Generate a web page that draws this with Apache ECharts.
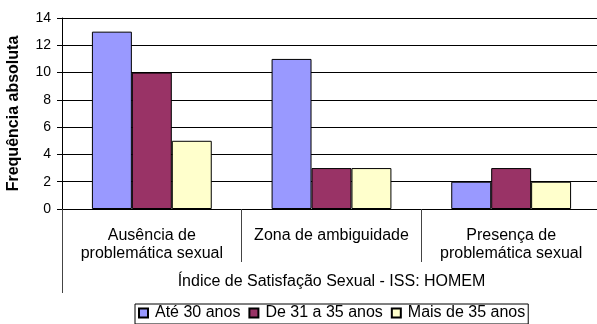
<!DOCTYPE html>
<html>
<head>
<meta charset="utf-8">
<script src="https://cdn.jsdelivr.net/npm/echarts@6/dist/echarts.min.js"></script>
<style>
  html, body { margin: 0; padding: 0; background: #fff; }
  #chart { width: 597px; height: 324px; }
</style>
</head>
<body>
<div id="chart"></div>
<script>
// Categories of the satisfaction index and one array per age group
const categories = ['Ausência de\nproblemática sexual', 'Zona de ambiguidade', 'Presença de\nproblemática sexual'];
const groupTitle = ['Índice de Satisfação Sexual - ISS: HOMEM'];
const seriesNames = ['Até 30 anos', 'De 31 a 35 anos', 'Mais de 35 anos'];
const ate30 = [13, 11, 2];
const de31a35 = [10, 3, 3];
const mais35 = [5, 3, 2];
const yTicks = { min: 0, max: 14, interval: 2 };

const FONT = "'Liberation Sans', Arial, sans-serif";
const colors = ['#9999FF', '#993366', '#FFFFCC'];
const values = [ate30, de31a35, mais35];

const chart = echarts.init(document.getElementById('chart'), null, { renderer: 'canvas' });

chart.setOption({
  animation: false,
  textStyle: { fontFamily: FONT },
  grid: { left: 62, right: -4, top: 18, bottom: 115, containLabel: false, outerBoundsMode: 'none' },
  legend: {
    data: seriesNames,
    left: 135,
    top: 304,
    orient: 'horizontal',
    icon: 'rect',
    itemWidth: 9,
    itemHeight: 9,
    itemGap: 8,
    padding: [1, 3, 3, 3],
    borderColor: '#000',
    borderWidth: 1,
    textStyle: { fontFamily: FONT, fontSize: 16, color: '#000', lineHeight: 16, padding: [0, 0, 0, 2] }
  },
  xAxis: [
    {
      type: 'category',
      data: categories,
      position: 'bottom',
      axisLine: { show: true, lineStyle: { color: '#000', width: 1 } },
      axisTick: { show: true, alignWithLabel: false, length: 53, lineStyle: { color: '#444' } },
      axisLabel: { show: true, interval: 0, margin: 18, color: '#000', fontFamily: FONT, fontSize: 16, lineHeight: 18, align: 'center' },
      splitLine: { show: false }
    },
    {
      type: 'category',
      data: groupTitle,
      position: 'bottom',
      offset: 0,
      axisLine: { show: false },
      axisTick: { show: true, alignWithLabel: false, length: 84, lineStyle: { color: '#444' } },
      axisLabel: { show: true, interval: 0, margin: 64, color: '#000', fontFamily: FONT, fontSize: 16, lineHeight: 18 },
      splitLine: { show: false }
    }
  ],
  yAxis: {
    type: 'value',
    min: yTicks.min,
    max: yTicks.max,
    interval: yTicks.interval,
    name: 'Frequência absoluta',
    nameLocation: 'middle',
    nameRotate: 90,
    nameGap: 40,
    nameTextStyle: { fontFamily: FONT, fontSize: 16, fontWeight: 'bold', color: '#000' },
    axisLine: { show: true, lineStyle: { color: '#000', width: 1 } },
    axisTick: { show: true, inside: false, length: 5, lineStyle: { color: '#000' } },
    axisLabel: { margin: 11, color: '#000', fontFamily: FONT, fontSize: 14 },
    splitLine: { show: true, lineStyle: { color: '#000', width: 1 } }
  },
  series: seriesNames.map((name, i) => ({
    name: name,
    type: 'bar',
    xAxisIndex: 0,
    data: values[i],
    barGap: '0%',
    barCategoryGap: '33.3%',
    itemStyle: { color: colors[i], borderColor: '#000', borderWidth: 1 }
  }))
});
</script>
</body>
</html>
